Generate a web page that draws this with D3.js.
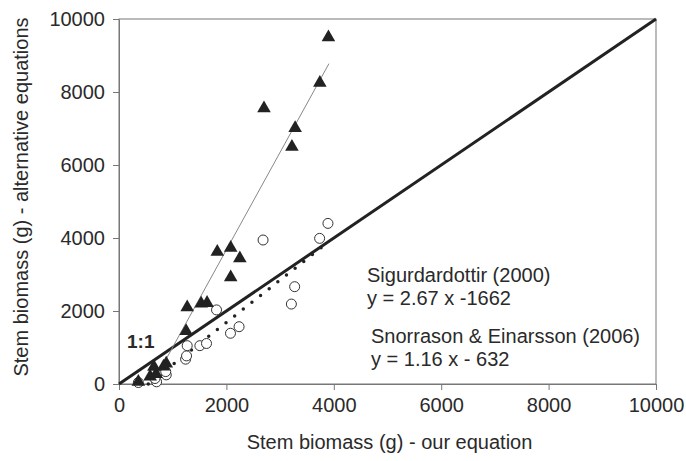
<!DOCTYPE html>
<html>
<head>
<meta charset="utf-8">
<script src="https://cdn.jsdelivr.net/npm/d3@7"></script>
<style>
  body { margin: 0; background: #fff; }
  text { font-family: "Liberation Sans", Arial, sans-serif; fill: #2a2a2a; }
</style>
</head>
<body>
<svg id="chart" width="686" height="461"></svg>
<script>
// axis ticks
const tickValues = [0, 2000, 4000, 6000, 8000, 10000];

// alternative equation 1 (filled triangles)
const sigX = [360, 580, 690, 650, 880, 830, 1250, 1270, 1530, 1640, 1830, 2080, 2250, 2080, 2700, 3220, 3280, 3740, 3900];
const sigY = [60, 200, 270, 470, 560, 480, 1450, 2100, 2200, 2220, 3620, 3730, 3440, 2920, 7550, 6500, 7010, 8250, 9500];

// alternative equation 2 (open circles)
const snoX = [360, 700, 670, 880, 870, 1240, 1258, 1270, 1506, 1630, 1816, 2076, 2236, 2683, 3210, 3271, 3736, 3891];
const snoY = [40, 60, 150, 250, 340, 680, 770, 1050, 1050, 1110, 2030, 1390, 1570, 3945, 2190, 2666, 3990, 4400];

// regression lines: [slope, intercept, xStart, xEnd]
const sigFit = [2.67, -1662, 622, 3910];
const snoFit = [1.16, -632, 545, 3800];
const oneToOne = [0, 10000];

const svg = d3.select("#chart");
const margin = {left: 119, top: 19, right: 30, bottom: 77};
const width = 686 - margin.left - margin.right;
const height = 461 - margin.top - margin.bottom;

const x = d3.scaleLinear().domain([0, 10000]).range([0, width]);
const y = d3.scaleLinear().domain([0, 10000]).range([height, 0]);

const g = svg.append("g").attr("transform", "translate(" + margin.left + "," + margin.top + ")");

// plot frame
g.append("rect")
    .attr("width", width).attr("height", height)
    .attr("fill", "none").attr("stroke", "#777").attr("stroke-width", 1);

// x axis
const xAxis = g.append("g")
    .attr("transform", "translate(0," + height + ")")
    .call(d3.axisBottom(x).tickValues(tickValues).tickSize(6).tickSizeOuter(0).tickPadding(8).tickFormat(d3.format("d")));
xAxis.select(".domain").attr("stroke", "#777");
xAxis.selectAll(".tick line").attr("stroke", "#777");
xAxis.selectAll("text").attr("font-size", 20).attr("fill", "#2a2a2a").attr("font-family", null);

// y axis
const yAxis = g.append("g")
    .call(d3.axisLeft(y).tickValues(tickValues).tickSize(6).tickSizeOuter(0).tickPadding(8).tickFormat(d3.format("d")));
yAxis.select(".domain").attr("stroke", "#777");
yAxis.selectAll(".tick line").attr("stroke", "#777");
yAxis.selectAll("text").attr("font-size", 20).attr("fill", "#2a2a2a").attr("font-family", null);

// axis titles
svg.append("text")
    .attr("x", margin.left + width / 2 + 2).attr("y", 449)
    .attr("text-anchor", "middle").attr("font-size", 20)
    .text("Stem biomass (g) - our equation");

svg.append("text")
    .attr("transform", "translate(28," + 197 + ") rotate(-90)")
    .attr("text-anchor", "middle").attr("font-size", 20)
    .text("Stem biomass (g) - alternative equations");

// lines
const line = d3.line().x(d => x(d[0])).y(d => y(d[1]));

g.append("path")
    .datum(oneToOne.map(v => [v, v]))
    .attr("d", line)
    .attr("stroke", "#222").attr("stroke-width", 3).attr("fill", "none");

g.append("path")
    .datum([sigFit[2], sigFit[3]].map(v => [v, sigFit[0] * v + sigFit[1]]))
    .attr("d", line)
    .attr("stroke", "#888").attr("stroke-width", 1).attr("fill", "none");

g.append("path")
    .datum([snoFit[2], snoFit[3]].map(v => [v, snoFit[0] * v + snoFit[1]]))
    .attr("d", line)
    .attr("stroke", "#222").attr("stroke-width", 3.5).attr("fill", "none")
    .attr("stroke-linecap", "round").attr("stroke-dasharray", "0,11");

// markers
g.selectAll("circle.sno")
    .data(snoX.map((v, i) => [v, snoY[i]]))
    .enter().append("circle")
    .attr("class", "sno")
    .attr("cx", d => x(d[0])).attr("cy", d => y(d[1]))
    .attr("r", 5)
    .attr("fill", "#fff").attr("stroke", "#333").attr("stroke-width", 1);

const tri = d3.symbol().type(d3.symbolTriangle).size(80);
g.selectAll("path.sig")
    .data(sigX.map((v, i) => [v, sigY[i]]))
    .enter().append("path")
    .attr("class", "sig")
    .attr("d", tri)
    .attr("transform", d => "translate(" + x(d[0]) + "," + y(d[1]) + ")")
    .attr("fill", "#222");

// annotations
svg.append("text").attr("x", 127).attr("y", 348)
    .attr("font-size", 19).attr("font-weight", "bold").text("1:1");

const notes = [
    ["Sigurdardottir (2000)", 367, 282],
    ["y = 2.67 x -1662", 367, 305],
    ["Snorrason & Einarsson (2006)", 371, 343],
    ["y = 1.16 x - 632", 371, 366]
];
svg.selectAll("text.note")
    .data(notes)
    .enter().append("text")
    .attr("class", "note")
    .attr("x", d => d[1]).attr("y", d => d[2])
    .attr("font-size", 20)
    .text(d => d[0]);
</script>
</body>
</html>
